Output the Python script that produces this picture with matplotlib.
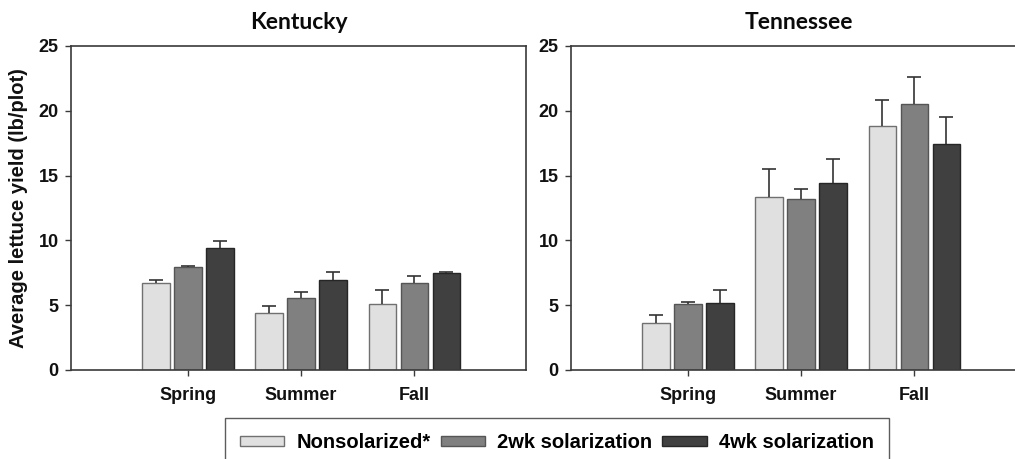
import numpy as np
import matplotlib.pyplot as plt
from matplotlib.patches import Patch

plt.rcParams["font.family"] = ["Liberation Sans", "DejaVu Sans"]

# --- data ---
seasons = ["Spring", "Summer", "Fall"]
treatments = ["Nonsolarized*", "2wk solarization", "4wk solarization"]

ky_mean = [[6.74, 4.37, 5.12],   # nonsolarized
           [7.97, 5.58, 6.71],   # 2wk
           [9.39, 6.94, 7.46]]   # 4wk
ky_err = [[0.20, 0.57, 1.05],
          [0.08, 0.41, 0.54],
          [0.59, 0.62, 0.13]]

tn_mean = [[3.65, 13.35, 18.85],
           [5.07, 13.19, 20.50],
           [5.20, 14.40, 17.41]]
tn_err = [[0.57, 2.18, 1.96],
          [0.18, 0.80, 2.11],
          [0.97, 1.91, 2.09]]

FILL = ["#e0e0e0", "#808080", "#404040"]
EDGE = ["#707070", "#555555", "#262626"]
AX_COL = "#3a3a3a"

fig = plt.figure(figsize=(10.15, 4.59), dpi=100)

W, H = 1015, 459
ax_w = 455 / W
ax_h = 324 / H
bottom = (H - 370) / H
ax1 = fig.add_axes([71 / W, bottom, ax_w, ax_h])
ax2 = fig.add_axes([571 / W, bottom, ax_w, ax_h])

x = np.arange(len(seasons))
bw = 0.24
step = 0.283


def draw(ax, means, errs, title):
    for i in range(3):
        pos = x + (i - 1) * step
        ax.bar(pos, means[i], width=bw, color=FILL[i], edgecolor=EDGE[i],
               linewidth=1.0, zorder=2)
        _, caps, _ = ax.errorbar(pos, means[i], yerr=[np.zeros(3), errs[i]],
                                 fmt="none", ecolor="#333333", elinewidth=1.2,
                                 capsize=5, capthick=1.2, zorder=3)
        # upper-only error bars: hide the cap sitting on the bar top
        for c in caps:
            if np.allclose(c.get_ydata(), means[i]):
                c.set_visible(False)
    ax.set_xlim(-1.035, 2.99)
    ax.set_ylim(0, 25)
    ax.set_yticks([0, 5, 10, 15, 20, 25])
    ax.set_xticks(x)
    ax.set_xticklabels(seasons, fontsize=13, fontweight="bold", color="#111111")
    for lab in ax.get_yticklabels():
        lab.set_fontsize(13)
        lab.set_fontweight("bold")
        lab.set_color("#111111")
    ax.tick_params(axis="x", direction="out", length=4, width=1,
                   color=AX_COL, pad=8)
    ax.tick_params(axis="y", direction="out", length=4, width=1,
                   color=AX_COL, pad=5)
    for sp in ax.spines.values():
        sp.set_color(AX_COL)
        sp.set_linewidth(1.2)
    ax.set_title(title, fontsize=16.5, fontweight="bold", family="Lato",
                 color="#0a0a0a", pad=12)


draw(ax1, ky_mean, ky_err, "Kentucky")
draw(ax2, tn_mean, tn_err, "Tennessee")

ax1.set_ylabel("Average lettuce yield (lb/plot)", fontsize=14.5,
               fontweight="bold", color="#111111")
ax1.yaxis.set_label_coords(-0.094, 0.5)

handles = [Patch(facecolor=FILL[i], edgecolor=EDGE[i], linewidth=1.0)
           for i in range(3)]
fig.legend(handles, treatments, loc="upper left",
           bbox_to_anchor=(225 / W, 1 - 418 / H), borderaxespad=0,
           ncol=3, frameon=True, fancybox=False, edgecolor="#333333",
           prop={"weight": "bold", "size": 14.5}, handlelength=2.2,
           handleheight=0.45, handletextpad=0.6, columnspacing=0.5,
           borderpad=0.75)

fig.savefig("out.png", dpi=100)
